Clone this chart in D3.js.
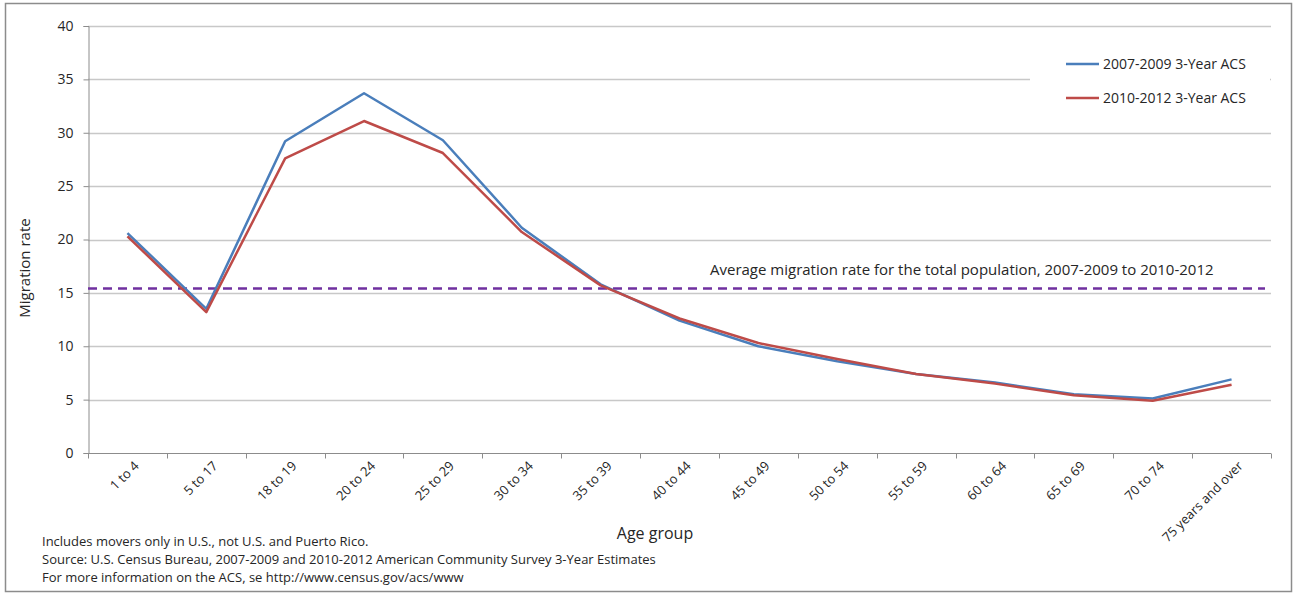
<!DOCTYPE html>
<html>
<head>
<meta charset="utf-8">
<script src="https://cdn.jsdelivr.net/npm/d3@7"></script>
<style>
  html, body { margin: 0; padding: 0; background: #fff; }
  svg { display: block; }
  text { font-family: "Open Sans", "Liberation Sans", sans-serif; fill: #262626; }
</style>
</head>
<body>
<svg id="chart" width="1296" height="594"></svg>
<script>
// Age groups on the x axis
const ageGroups = ["1 to 4", "5 to 17", "18 to 19", "20 to 24", "25 to 29", "30 to 34", "35 to 39",
  "40 to 44", "45 to 49", "50 to 54", "55 to 59", "60 to 64", "65 to 69", "70 to 74", "75 years and over"];

// Migration rate by age group, 2007-2009 3-Year ACS
const acs2007_2009 = [20.6, 13.5, 29.2, 33.7, 29.3, 21.1, 15.8, 12.4, 10.0, 8.6, 7.4, 6.6, 5.5, 5.1, 6.9];
// Migration rate by age group, 2010-2012 3-Year ACS
const acs2010_2012 = [20.3, 13.2, 27.6, 31.1, 28.1, 20.7, 15.7, 12.6, 10.3, 8.8, 7.4, 6.5, 5.4, 4.9, 6.4];

// Average migration rate for the total population
const averageRate = 15.5;

const yTicks = [0, 5, 10, 15, 20, 25, 30, 35, 40];

const seriesNames = ["2007-2009 3-Year ACS", "2010-2012 3-Year ACS"];
const seriesColors = ["#4a7ebb", "#be4b48"];

const footnotes = [
  "Includes movers only in U.S., not U.S. and Puerto Rico.",
  "Source:  U.S. Census Bureau, 2007-2009 and 2010-2012 American Community Survey 3-Year Estimates",
  "For more information on the ACS, se http://www.census.gov/acs/www"
];

const svg = d3.select("#chart");
const W = 1296, H = 594;
const plot = { left: 88, right: 1271, top: 26, bottom: 453 };

// Outer frame
svg.append("rect")
  .attr("x", 5.5).attr("y", 3.5).attr("width", W - 10).attr("height", H - 6)
  .attr("fill", "#fff").attr("stroke", "#8c8c8c").attr("stroke-width", 1.5);

const x = d3.scaleBand().domain(ageGroups).range([plot.left, plot.right]).padding(0);
const y = d3.scaleLinear().domain([0, 40]).range([plot.bottom, plot.top]);
const cx = d => x(d) + x.bandwidth() / 2;

// Horizontal gridlines
svg.append("g").selectAll("line")
  .data(yTicks.filter(t => t > 0))
  .join("line")
  .attr("x1", plot.left).attr("x2", plot.right)
  .attr("y1", d => Math.round(y(d)) + 0.5).attr("y2", d => Math.round(y(d)) + 0.5)
  .attr("stroke", "#c8c8c8").attr("stroke-width", 1.3);

// Y axis
const yAxis = d3.axisLeft(y).tickValues(yTicks).tickSize(5).tickPadding(10).tickFormat(d3.format("d"));
const gy = svg.append("g").attr("transform", `translate(${plot.left + 0.5},0)`).call(yAxis);
gy.select(".domain").attr("stroke", "#8c8c8c");
gy.selectAll(".tick line").attr("stroke", "#8c8c8c");
gy.selectAll(".tick text").style("fill", "#262626")
  .style("font-family", "'Open Sans', sans-serif").attr("font-size", 14);

// X axis with ticks between categories
const gx = svg.append("g").attr("transform", `translate(0,${plot.bottom + 0.5})`);
gx.append("line").attr("x1", plot.left).attr("x2", plot.right).attr("stroke", "#8c8c8c");
const boundaries = ageGroups.map(d => x(d)).concat([plot.right]);
gx.selectAll("line.tk").data(boundaries).join("line").attr("class", "tk")
  .attr("x1", d => Math.round(d) + 0.5).attr("x2", d => Math.round(d) + 0.5)
  .attr("y1", 0).attr("y2", 5).attr("stroke", "#8c8c8c");
gx.selectAll("text").data(ageGroups).join("text")
  .attr("transform", d => `translate(${cx(d) + 9},${10}) rotate(-45)`)
  .attr("text-anchor", "end").attr("dy", "0.35em")
  .attr("font-size", 13)
  .text(d => d);

// Average reference line
svg.append("line")
  .attr("x1", plot.left).attr("x2", plot.right - 6)
  .attr("y1", y(averageRate) + 1).attr("y2", y(averageRate) + 1)
  .attr("stroke", "#7030a0").attr("stroke-width", 2.5).attr("stroke-dasharray", "9,6");
svg.append("text")
  .attr("x", 710).attr("y", 275)
  .attr("font-size", 15)
  .text("Average migration rate for the total population, 2007-2009 to 2010-2012");

// Series lines
const line = d3.line().x((d, i) => cx(ageGroups[i])).y(d => y(d));
[acs2007_2009, acs2010_2012].forEach((vals, i) => {
  svg.append("path").datum(vals)
    .attr("d", line)
    .attr("fill", "none")
    .attr("stroke", seriesColors[i])
    .attr("stroke-width", 2.5)
    .attr("stroke-linejoin", "round");
});

// Legend
const legend = svg.append("g");
legend.append("rect").attr("x", 1030).attr("y", 40).attr("width", 240).attr("height", 80).attr("fill", "#fff");
seriesNames.forEach((name, i) => {
  const ly = 64 + i * 34;
  legend.append("line").attr("x1", 1066).attr("x2", 1099).attr("y1", ly).attr("y2", ly)
    .attr("stroke", seriesColors[i]).attr("stroke-width", 2.5);
  legend.append("text").attr("x", 1103).attr("y", ly).attr("dy", "0.35em")
    .attr("font-size", 14).text(name);
});

// Axis titles
svg.append("text")
  .attr("x", 655).attr("y", 539).attr("text-anchor", "middle")
  .attr("font-size", 16).text("Age group");
svg.append("text")
  .attr("transform", `translate(30,${268}) rotate(-90)`)
  .attr("text-anchor", "middle").attr("font-size", 15).text("Migration rate");

// Footnotes
svg.append("g").selectAll("text").data(footnotes).join("text")
  .attr("x", 42).attr("y", (d, i) => 546 + i * 18)
  .attr("font-size", 13)
  .text(d => d);
</script>
</body>
</html>
